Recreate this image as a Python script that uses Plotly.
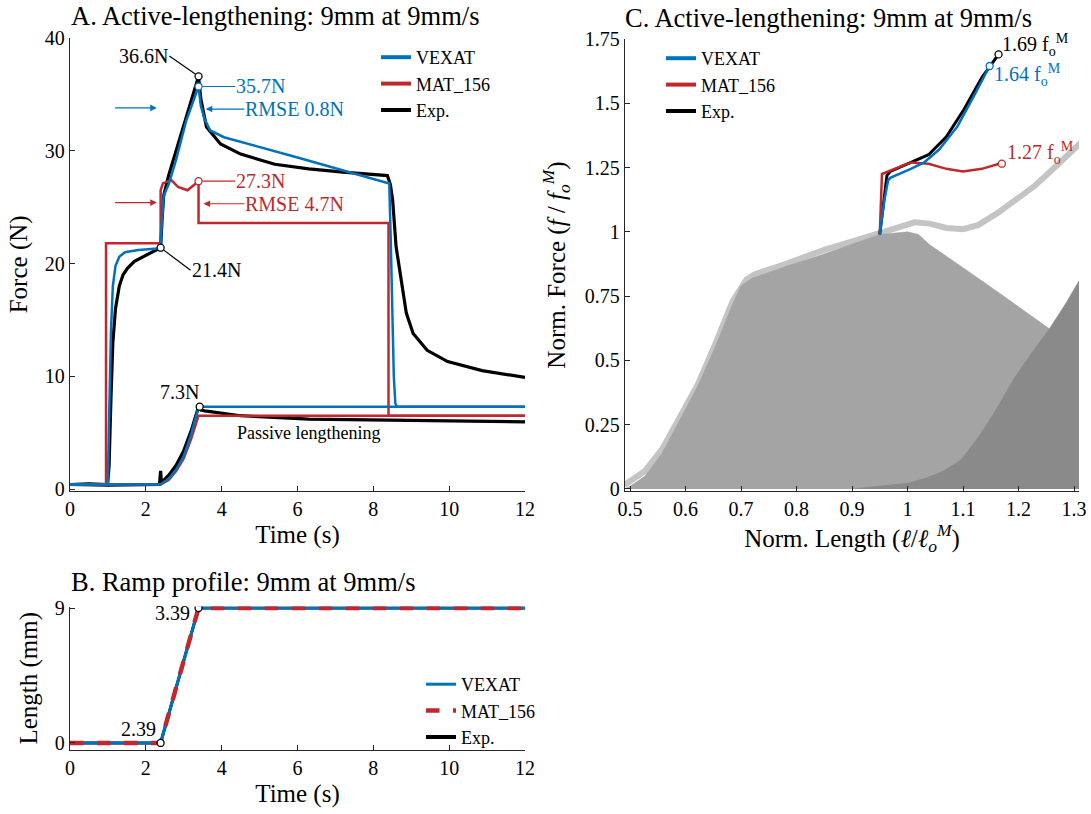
import plotly.graph_objects as go

# ---------------- Panel A data (Time vs Force) ----------------
t_exp_act = [0, 0.5, 0.99, 1.03, 1.08, 1.13, 1.2, 1.3, 1.4, 1.52, 1.7, 1.97, 2.2, 2.39, 2.43, 2.47,
             2.6, 2.88, 3.1, 3.25, 3.39, 3.45, 3.6, 3.97, 4.5, 5.4, 6.3, 7.2, 8.15, 8.37, 8.45,
             8.51, 8.6, 8.74, 8.87, 9.05, 9.42, 9.96, 10.87, 12.0]
f_exp_act = [0.4, 0.45, 0.4, 2.0, 8.0, 13.0, 16.0, 18.0, 19.0, 19.6, 20.2, 20.7, 21.1, 21.4, 24.0, 26.0,
             27.8, 30.9, 33.5, 35.0, 36.6, 34.6, 32.1, 30.6, 29.7, 28.8, 28.4, 28.1, 27.9, 27.8, 27.0,
             25.6, 21.5, 18.2, 15.6, 13.8, 12.3, 11.3, 10.5, 9.9]

t_vexat_act = [0, 1.0, 1.03, 1.08, 1.13, 1.2, 1.3, 1.45, 1.8, 2.39, 2.42, 2.47, 2.6, 2.79, 3.06, 3.3,
               3.39, 3.45, 3.55, 3.7, 4.06, 6.0, 7.5, 8.42, 8.46, 8.5, 8.54, 8.58, 8.62, 12.0]
f_vexat_act = [0.4, 0.4, 6.0, 14.0, 18.0, 19.8, 20.6, 21.0, 21.2, 21.35, 23.5, 26.0, 27.0, 29.1, 32.6, 34.8,
               35.7, 34.0, 32.8, 31.8, 31.2, 29.4, 28.0, 27.1, 22.0, 15.0, 10.0, 7.6, 7.3, 7.3]

t_mat_act = [0, 0.95, 0.95, 2.39, 2.39, 2.45, 2.67, 2.85, 3.1, 3.3, 3.39, 3.39, 8.4, 8.4, 12.0]
f_mat_act = [0.4, 0.4, 21.8, 21.8, 26.5, 27.1, 27.4, 26.8, 26.5, 27.0, 27.3, 23.6, 23.6, 6.5, 6.5]

t_exp_pas = [0, 1.0, 2.36, 2.39, 2.41, 2.45, 2.6, 2.8, 3.0, 3.2, 3.39, 3.45, 3.6, 3.8, 4.5, 6.3, 9.0, 12.0]
f_exp_pas = [0.4, 0.35, 0.4, 1.6, 0.6, 0.7, 1.2, 2.1, 3.4, 5.2, 7.3, 7.0, 6.9, 6.8, 6.5, 6.2, 6.1, 5.95]

t_vexat_pas = [0, 2.39, 2.6, 2.8, 3.0, 3.2, 3.39, 12.0]
f_vexat_pas = [0.4, 0.4, 0.9, 1.7, 2.9, 4.9, 7.3, 7.3]

t_mat_pas = [0, 2.39, 2.6, 2.8, 3.0, 3.2, 3.39, 12.0]
f_mat_pas = [0.4, 0.4, 0.8, 1.6, 2.7, 4.5, 6.5, 6.5]

# ---------------- Panel B data (Time vs Length) ----------------
t_ramp = [0, 2.39, 3.39, 12.0]
len_vexat = [0, 0, 9, 9]
len_mat = [0, 0, 9, 9]
len_exp = [0, 0, 9, 9]

# ---------------- Panel C data (Norm length vs Norm force) ----------------
fl_act_x = [0.49, 0.5, 0.527, 0.558, 0.59, 0.622, 0.653, 0.685, 0.70, 0.72, 0.78, 0.844, 0.95, 1.0,
            1.02, 1.04, 1.134, 1.256, 1.31]
fl_act_y = [0.0, 0.01, 0.05, 0.14, 0.27, 0.40, 0.55, 0.72, 0.79, 0.82, 0.865, 0.91, 0.99, 1.0,
            0.99, 0.95, 0.81, 0.625, 0.54]
fl_pas_x = [0.9, 0.97, 1.002, 1.034, 1.065, 1.097, 1.129, 1.16, 1.192, 1.224, 1.256, 1.287, 1.31]
fl_pas_y = [0.0, 0.017, 0.023, 0.043, 0.07, 0.115, 0.206, 0.31, 0.43, 0.53, 0.624, 0.728, 0.813]
fl_sum_x = [0.49, 0.527, 0.558, 0.59, 0.622, 0.653, 0.685, 0.71, 0.725, 0.78, 0.85, 0.95, 0.975, 1.0,
            1.013, 1.04, 1.07, 1.1, 1.127, 1.165, 1.2, 1.23, 1.27, 1.314]
fl_sum_y = [0.015, 0.07, 0.155, 0.275, 0.405, 0.56, 0.73, 0.815, 0.835, 0.875, 0.93, 0.995, 1.013, 1.03,
            1.037, 1.032, 1.015, 1.01, 1.026, 1.077, 1.13, 1.18, 1.26, 1.35]

lc_exp_x = [0.95, 0.955, 0.963, 0.969, 0.985, 1.006, 1.038, 1.07, 1.102, 1.134, 1.164]
lc_exp_y = [0.99, 1.077, 1.22, 1.235, 1.25, 1.27, 1.30, 1.37, 1.477, 1.60, 1.69]
lc_vexat_x = [0.95, 0.958, 0.965, 0.969, 1.006, 1.03, 1.057, 1.09, 1.12, 1.148]
lc_vexat_y = [0.99, 1.12, 1.2, 1.21, 1.245, 1.27, 1.32, 1.41, 1.53, 1.645]
lc_mat_x = [0.95, 0.954, 1.006, 1.038, 1.07, 1.10, 1.134, 1.17]
lc_mat_y = [0.99, 1.225, 1.27, 1.265, 1.245, 1.235, 1.245, 1.268]

BLUE = "#0072BD"
RED = "#C0282E"
BLACK = "#000000"
FONT = "Liberation Serif"
AX = "#262626"

fig = go.Figure()

# ---- Panel A traces ----
fig.add_trace(go.Scatter(x=t_exp_act, y=f_exp_act, mode="lines", line=dict(color=BLACK, width=3.2),
                         name="Exp.", showlegend=False, xaxis="x", yaxis="y"))
fig.add_trace(go.Scatter(x=t_exp_pas, y=f_exp_pas, mode="lines", line=dict(color=BLACK, width=3.2),
                         name="Exp.", showlegend=False, xaxis="x", yaxis="y"))
fig.add_trace(go.Scatter(x=t_mat_act, y=f_mat_act, mode="lines", line=dict(color=RED, width=2.5),
                         name="MAT_156", showlegend=False, xaxis="x", yaxis="y"))
fig.add_trace(go.Scatter(x=t_mat_pas, y=f_mat_pas, mode="lines", line=dict(color=RED, width=2.5),
                         name="MAT_156", showlegend=False, xaxis="x", yaxis="y"))
fig.add_trace(go.Scatter(x=t_vexat_act, y=f_vexat_act, mode="lines", line=dict(color=BLUE, width=2.5),
                         name="VEXAT", showlegend=False, xaxis="x", yaxis="y"))
fig.add_trace(go.Scatter(x=t_vexat_pas, y=f_vexat_pas, mode="lines", line=dict(color=BLUE, width=2.5),
                         name="VEXAT", showlegend=False, xaxis="x", yaxis="y"))
for nm, col in [("VEXAT", BLUE), ("MAT_156", RED), ("Exp.", BLACK)]:
    fig.add_trace(go.Scatter(x=[None], y=[None], mode="lines", line=dict(color=col, width=4),
                             name=nm, legend="legend", xaxis="x", yaxis="y"))
fig.add_trace(go.Scatter(x=[2.39, 3.39, 3.42], y=[21.4, 36.6, 7.3], mode="markers",
                         marker=dict(symbol="circle", size=7, color="white", line=dict(color=BLACK, width=1.3)),
                         showlegend=False, xaxis="x", yaxis="y"))
fig.add_trace(go.Scatter(x=[3.39], y=[35.7], mode="markers",
                         marker=dict(symbol="circle", size=7, color="white", line=dict(color=BLUE, width=1.3)),
                         showlegend=False, xaxis="x", yaxis="y"))
fig.add_trace(go.Scatter(x=[3.39], y=[27.3], mode="markers",
                         marker=dict(symbol="circle", size=7, color="white", line=dict(color=RED, width=1.3)),
                         showlegend=False, xaxis="x", yaxis="y"))

# ---- Panel B traces ----
fig.add_trace(go.Scatter(x=t_ramp, y=len_exp, mode="lines", line=dict(color=BLACK, width=3),
                         name="Exp.", showlegend=False, xaxis="x2", yaxis="y2"))
fig.add_trace(go.Scatter(x=t_ramp, y=len_vexat, mode="lines", line=dict(color=BLUE, width=3),
                         name="VEXAT", legend="legend2", xaxis="x2", yaxis="y2"))
fig.add_trace(go.Scatter(x=t_ramp, y=len_mat, mode="lines", line=dict(color=RED, width=4.5, dash="dash"),
                         name="MAT_156", legend="legend2", xaxis="x2", yaxis="y2"))
fig.add_trace(go.Scatter(x=[None], y=[None], mode="lines", line=dict(color=BLACK, width=4),
                         name="Exp.", legend="legend2", xaxis="x2", yaxis="y2"))
fig.add_trace(go.Scatter(x=[2.39, 3.39], y=[0, 9], mode="markers",
                         marker=dict(symbol="circle", size=7, color="white", line=dict(color=BLACK, width=1.3)),
                         showlegend=False, xaxis="x2", yaxis="y2"))

# ---- Panel C traces ----
fig.add_trace(go.Scatter(x=fl_sum_x, y=fl_sum_y, mode="lines", line=dict(color="#c4c4c4", width=6),
                         showlegend=False, hoverinfo="skip", xaxis="x3", yaxis="y3"))
fig.add_trace(go.Scatter(x=fl_act_x, y=fl_act_y, mode="lines", fill="tozeroy", fillcolor="#a4a4a4",
                         line=dict(color="#a4a4a4", width=0.5), showlegend=False, hoverinfo="skip",
                         xaxis="x3", yaxis="y3"))
fig.add_trace(go.Scatter(x=fl_pas_x, y=fl_pas_y, mode="lines", fill="tozeroy", fillcolor="#8a8a8a",
                         line=dict(color="#8a8a8a", width=0.5), showlegend=False, hoverinfo="skip",
                         xaxis="x3", yaxis="y3"))
fig.add_trace(go.Scatter(x=lc_exp_x, y=lc_exp_y, mode="lines", line=dict(color=BLACK, width=3),
                         name="Exp.", showlegend=False, xaxis="x3", yaxis="y3"))
fig.add_trace(go.Scatter(x=lc_mat_x, y=lc_mat_y, mode="lines", line=dict(color=RED, width=2.5),
                         name="MAT_156", showlegend=False, xaxis="x3", yaxis="y3"))
fig.add_trace(go.Scatter(x=lc_vexat_x, y=lc_vexat_y, mode="lines", line=dict(color=BLUE, width=2.5),
                         name="VEXAT", showlegend=False, xaxis="x3", yaxis="y3"))
for nm, col in [("VEXAT", BLUE), ("MAT_156", RED), ("Exp.", BLACK)]:
    fig.add_trace(go.Scatter(x=[None], y=[None], mode="lines", line=dict(color=col, width=4),
                             name=nm, legend="legend3", xaxis="x3", yaxis="y3"))
fig.add_trace(go.Scatter(x=[1.164], y=[1.69], mode="markers",
                         marker=dict(symbol="circle", size=7, color="white", line=dict(color=BLACK, width=1.3)),
                         showlegend=False, xaxis="x3", yaxis="y3"))
fig.add_trace(go.Scatter(x=[1.148], y=[1.645], mode="markers",
                         marker=dict(symbol="circle", size=7, color="white", line=dict(color=BLUE, width=1.3)),
                         showlegend=False, xaxis="x3", yaxis="y3"))
fig.add_trace(go.Scatter(x=[1.17], y=[1.265], mode="markers",
                         marker=dict(symbol="circle", size=7, color="white", line=dict(color=RED, width=1.3)),
                         showlegend=False, xaxis="x3", yaxis="y3"))

W, H = 1091, 814


def px(x):
    return x / W


def py(y):
    return 1 - y / H


axis_common = dict(showline=True, linecolor=AX, linewidth=1.3, ticks="inside", ticklen=5,
                   tickcolor=AX, tickwidth=1.2, showgrid=False, zeroline=False, mirror=False,
                   automargin=False, tickfont=dict(family=FONT, size=20, color=BLACK))
title_font = dict(family=FONT, size=25, color=BLACK)

ann = []


def atext(x, y, text, col, xref, yref, size=20, xanchor="center", yanchor="middle"):
    ann.append(dict(x=x, y=y, xref=xref, yref=yref, text=text, showarrow=False,
                    font=dict(family=FONT, size=size, color=col), xanchor=xanchor, yanchor=yanchor))


def aline(x, y, ax, ay, text, col, head, xanchor="left", size=20, xref="x", yref="y"):
    ann.append(dict(x=x, y=y, ax=ax, ay=ay, xref=xref, yref=yref, axref=xref, ayref=yref,
                    text=text, showarrow=True, arrowhead=head, arrowsize=1.1, arrowwidth=1.2,
                    arrowcolor=col, standoff=4 if head == 0 else 0, borderpad=0,
                    font=dict(family=FONT, size=size, color=col), xanchor=xanchor, yanchor="middle"))


# panel titles
atext(px(69), py(16), "A. Active-lengthening: 9mm at 9mm/s", BLACK, "paper", "paper", size=26.5, xanchor="left")
atext(px(69), py(582), "B. Ramp profile: 9mm at 9mm/s", BLACK, "paper", "paper", size=26.5, xanchor="left")
atext(px(623), py(18), "C. Active-lengthening: 9mm at 9mm/s", BLACK, "paper", "paper", size=26.5, xanchor="left")

# panel A annotations
aline(3.39, 36.6, 2.62, 38.4, "36.6N", BLACK, 0, xanchor="right")
aline(2.39, 21.4, 3.18, 19.4, "21.4N", BLACK, 0, xanchor="left")
aline(3.39, 35.7, 4.36, 35.7, "35.7N", BLUE, 0)
aline(3.39, 27.3, 4.36, 27.3, "27.3N", RED, 0)
aline(2.29, 33.8, 1.15, 33.8, "", BLUE, 2)
aline(3.58, 33.7, 4.6, 33.7, "RMSE 0.8N", BLUE, 2)
aline(2.29, 25.4, 1.15, 25.4, "", RED, 2)
aline(3.52, 25.3, 4.6, 25.3, "RMSE 4.7N", RED, 2)
atext(2.88, 8.6, "7.3N", BLACK, "x", "y")
atext(6.3, 5.0, "Passive lengthening", BLACK, "x", "y", size=18)

# panel B annotations
atext(2.32, 0.95, "2.39", BLACK, "x2", "y2", xanchor="right")
atext(3.22, 8.7, "3.39", BLACK, "x2", "y2", xanchor="right")

# panel C annotations
atext(1.166, 1.725, "1.69 f<sub>o</sub><sup>M</sup>", BLACK, "x3", "y3", xanchor="left")
atext(1.152, 1.61, "1.64 f<sub>o</sub><sup>M</sup>", BLUE, "x3", "y3", xanchor="left")
atext(1.176, 1.305, "1.27 f<sub>o</sub><sup>M</sup>", RED, "x3", "y3", xanchor="left")

legend_common = dict(bgcolor="rgba(0,0,0,0)", borderwidth=0, xanchor="left", yanchor="top",
                     font=dict(family=FONT, size=18, color=BLACK), tracegroupgap=0,
                     itemwidth=30, itemclick=False)

fig.update_layout(
    width=W, height=H, autosize=False,
    margin=dict(l=0, r=0, t=0, b=0, autoexpand=False),
    paper_bgcolor="white", plot_bgcolor="white",
    showlegend=True,
    xaxis=dict(domain=[px(70), px(525)], range=[0, 12], anchor="y", tickvals=[0, 2, 4, 6, 8, 10, 12],
               title=dict(text="Time (s)", font=title_font, standoff=6), **axis_common),
    yaxis=dict(domain=[py(490.7), py(38)], range=[-0.15, 40], anchor="x", tickvals=[0, 10, 20, 30, 40],
               title=dict(text="Force (N)", font=title_font, standoff=10), **axis_common),
    xaxis2=dict(domain=[px(70), px(525)], range=[0, 12], anchor="y2", tickvals=[0, 2, 4, 6, 8, 10, 12],
                title=dict(text="Time (s)", font=title_font, standoff=6), **axis_common),
    yaxis2=dict(domain=[py(750), py(606.5)], range=[-0.47, 9.1], anchor="x2", tickvals=[0, 9],
                title=dict(text="Length (mm)", font=title_font, standoff=10), **axis_common),
    xaxis3=dict(domain=[px(625), px(1079)], range=[0.491, 1.309], anchor="y3",
                tickvals=[0.5, 0.6, 0.7, 0.8, 0.9, 1.0, 1.1, 1.2, 1.3],
                ticktext=["0.5", "0.6", "0.7", "0.8", "0.9", "1", "1.1", "1.2", "1.3"],
                title=dict(text="Norm. Length (<i>ℓ</i>/<i>ℓ</i><sub><i>o</i></sub><sup><i>M</i></sup>)",
                           font=title_font, standoff=6), **axis_common),
    yaxis3=dict(domain=[py(491), py(39)], range=[-0.008, 1.75], anchor="x3",
                tickvals=[0, 0.25, 0.5, 0.75, 1.0, 1.25, 1.5, 1.75],
                ticktext=["0", "0.25", "0.5", "0.75", "1", "1.25", "1.5", "1.75"],
                title=dict(text="Norm. Force (<i>f</i> / <i>f</i><sub><i>o</i></sub><sup><i>M</i></sup>)",
                           font=title_font, standoff=12), **axis_common),
    legend=dict(x=px(376), y=py(39), **legend_common),
    legend2=dict(x=px(421), y=py(666), **legend_common),
    legend3=dict(x=px(661), y=py(40), **legend_common),
    annotations=ann,
)

fig.write_html("out.html", config={"displayModeBar": False},
               post_script="document.body.style.margin='0px';")
